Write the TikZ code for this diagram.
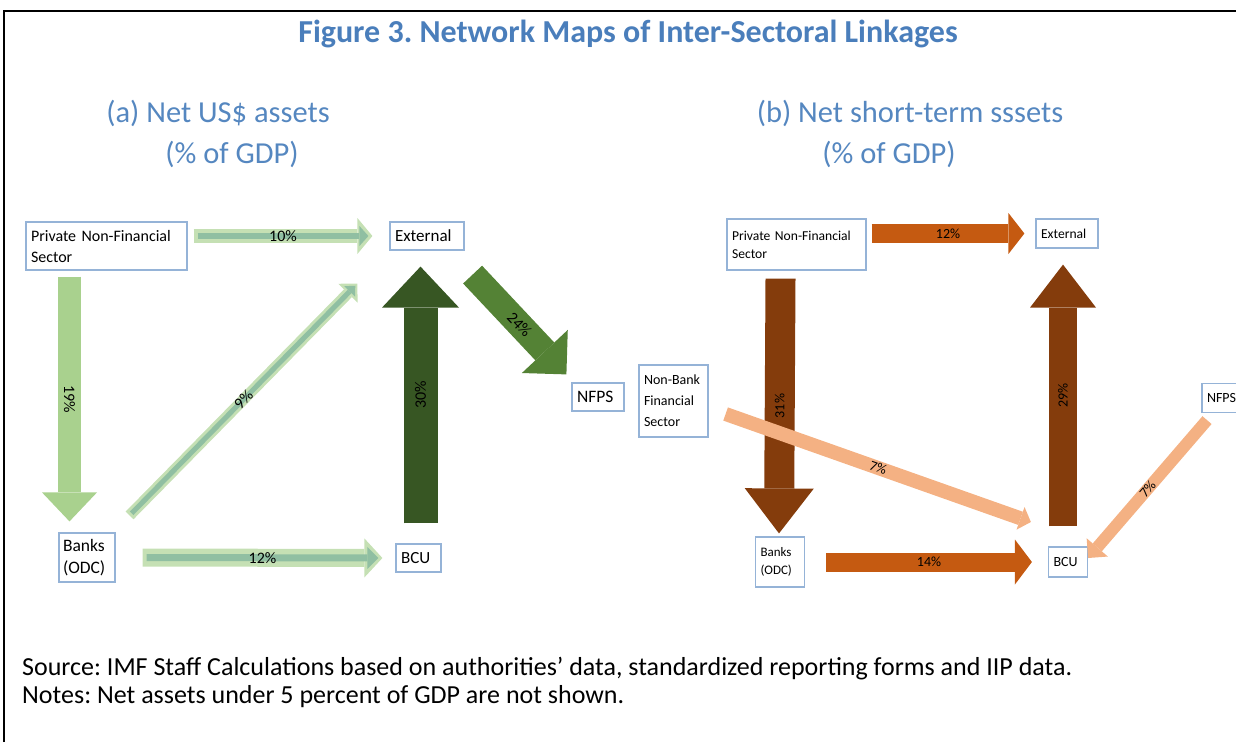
\documentclass[tikz,border=0pt]{standalone}
\usepackage{fontspec}
\setmainfont{Carlito}
\usepackage{tikz}
\usetikzlibrary{arrows.meta, positioning}
\frenchspacing

\definecolor{boxblue}{HTML}{95B3D7}
\definecolor{headblue}{HTML}{4A7EBB}
\definecolor{subblue}{HTML}{5587C0}
\definecolor{palegreen}{HTML}{C5E0B4}
\definecolor{coregreen}{HTML}{90BFA2}
\definecolor{midgreen}{HTML}{A9D18E}
\definecolor{darkgreen}{HTML}{375623}
\definecolor{leafgreen}{HTML}{548235}
\definecolor{rust}{HTML}{C55A11}
\definecolor{brown}{HTML}{843C0C}
\definecolor{peach}{HTML}{F4B183}

\tikzstyle{sectorA} = [rectangle, draw=boxblue, line width=1.2pt, fill=white, align=left, inner sep=5pt, font=\fontsize{16}{21}\selectfont]
\tikzstyle{sectorB} = [rectangle, draw=boxblue, line width=1.2pt, fill=white, align=left, inner sep=5pt, font=\fontsize{13.6}{18}\selectfont]
\tikzstyle{pctA} = [inner sep=0pt, font=\fontsize{16}{18}\selectfont]
\tikzstyle{pctB} = [inner sep=0pt, font=\fontsize{14}{16}\selectfont]
\tikzstyle{subtitle} = [text=subblue, font=\fontsize{30.5}{34}\selectfont]
\tikzstyle{note} = [anchor=west, inner sep=0pt, font=\fontsize{26}{30}\selectfont]
\tikzset{
  fat/.style n args={4}{draw=#1, line width=#2, line cap=butt,
    -{Triangle[width=#3, length=#4, line width=0pt]}},
  core/.style n args={4}{draw=#1, line width=#2, line cap=butt,
    shorten <=4pt, shorten >=4pt,
    -{Triangle[width=#3, length=#4, line width=0pt]}}
}

\begin{document}
\begin{tikzpicture}[x=1pt, y=-1pt]
\useasboundingbox (0,0) rectangle (1236,742);
\draw [line width=2.5pt] (4,742) -- (4,11) -- (1236,11);

\node [text=headblue, font=\bfseries\fontsize{32}{34}\selectfont] (title) at (628,34) {Figure 3. Network Maps of Inter-Sectoral Linkages};
\node [subtitle] (subA) at (218,113) {(a) Net US\$ assets};
\node [subtitle] (subA2) at (232,154) {(\% of GDP)};
\node [subtitle] (subB) at (910,113) {(b) Net short-term sssets};
\node [subtitle] (subB2) at (889,154) {(\% of GDP)};

% (a) net US$ assets
\node [sectorA, text width=151pt, minimum height=48pt] (pnfsA) at (106.5,246) {Private Non-Financial\\Sector};
\node [sectorA, text width=64pt, minimum height=28pt, font=\fontsize{17}{20}\selectfont] (extA) at (427,236) {External};
\node [sectorA, text width=48pt, minimum height=49pt, inner sep=4pt, font=\fontsize{17.5}{22}\selectfont] (banksA) at (87,557.5) {Banks\\(ODC)};
\node [sectorA, text width=35pt, minimum height=28pt, font=\fontsize{17}{20}\selectfont] (bcuA) at (418.5,558) {BCU};
\node [sectorA, text width=42pt, minimum height=28pt, font=\fontsize{17.5}{20}\selectfont] (nfpsA) at (598,397) {NFPS};
\node [sectorA, text width=59pt, minimum height=72pt, font=\fontsize{14}{21}\selectfont] (nbfsA) at (673.5,401) {Non-Bank\\Financial\\Sector};

\path [fat={palegreen}{14pt}{36pt}{15pt}] ([shift={(6,-10)}]pnfsA.east) -- ([xshift=-17pt]extA.west);
\path [core={coregreen}{6pt}{20pt}{9pt}] ([shift={(6,-10)}]pnfsA.east) -- node [pctA] {10\%} ([xshift=-17pt]extA.west);
\path [fat={midgreen}{23pt}{55pt}{29pt}] ([shift={(-37,6)}]pnfsA.south) -- node [pctA, sloped] {19\%} ([shift={(-17.5,-11)}]banksA.north);
\path [fat={palegreen}{11pt}{27pt}{13.5pt}] ([shift={(14,-17)}]banksA.north east) -- ([shift={(-32,33)}]extA.south west);
\path [core={coregreen}{5pt}{15pt}{8pt}, shorten <=3pt, shorten >=3pt] ([shift={(14,-17)}]banksA.north east) -- node [pctA, sloped] {9\%} ([shift={(-32,33)}]extA.south west);
\path [fat={palegreen}{18pt}{39pt}{18pt}] ([xshift=27pt]banksA.east) -- ([xshift=-13pt]bcuA.west);
\path [core={coregreen}{7pt}{22pt}{11pt}] ([xshift=27pt]banksA.east) -- node [pctA] {12\%} ([xshift=-13pt]bcuA.west);
\path [fat={darkgreen}{34pt}{77pt}{41pt}] ([shift={(2,-20)}]bcuA.north) -- node [pctA, sloped] {30\%} ([shift={(-6.5,16)}]extA.south);
\path [fat={leafgreen}{26pt}{63pt}{31.5pt}] ([shift={(8,24)}]extA.south east) -- node [pctA, sloped] {24\%} ([shift={(-5,-8)}]nfpsA.north west);

% (b) net short-term assets
\node [sectorB, text width=129pt, minimum height=51pt] (pnfsB) at (796.5,244.5) {Private Non-Financial\\Sector};
\node [sectorB, text width=52pt, minimum height=29pt] (extB) at (1067,233.5) {External};
\node [sectorB, text width=39pt, minimum height=50pt, font=\fontsize{13}{18}\selectfont] (banksB) at (780,562) {Banks\\(ODC)};
\node [sectorB, text width=29pt, minimum height=30pt, font=\fontsize{14}{18}\selectfont] (bcuB) at (1068,562) {BCU};
\node [sectorB, text width=44pt, minimum height=29pt, font=\fontsize{14}{18}\selectfont] (nfpsB) at (1229,398) {NFPS};

\path [fat={rust}{19pt}{41pt}{16pt}] ([shift={(5,-11)}]pnfsB.east) -- node [pctB] {12\%} ([xshift=-11pt]extB.west);
\path [fat={brown}{30pt}{69pt}{45pt}] ([shift={(-16,8)}]pnfsB.south) -- node [pctB, sloped] {31\%} ([shift={(-1,-3)}]banksB.north);
\path [fat={brown}{28pt}{66pt}{43pt}] ([shift={(-5,-20)}]bcuB.north) -- node [pctB, sloped] {29\%} ([shift={(-4,16)}]extB.south);
\path [fat={rust}{19pt}{45pt}{17pt}] ([xshift=21pt]banksB.east) -- node [pctB] {14\%} ([xshift=-16pt]bcuB.west);
\path [fat={peach}{14pt}{24pt}{11pt}] ([shift={(17,13)}]nbfsA.east) -- node [pctB, sloped] {7\%} ([shift={(-17,-40)}]bcuB.west);
\path [fat={peach}{12pt}{28pt}{14pt}] ([shift={(-22,7)}]nfpsB.south) -- node [pctB, sloped] {7\%} ([shift={(0,-4)}]bcuB.east);

\node [note] (src) at (22,669) {Source: IMF Staff Calculations based on authorities’ data, standardized reporting forms and IIP data.};
\node [note] (notes) at (22,697) {Notes: Net assets under 5 percent of GDP are not shown.};
\end{tikzpicture}
\end{document}
